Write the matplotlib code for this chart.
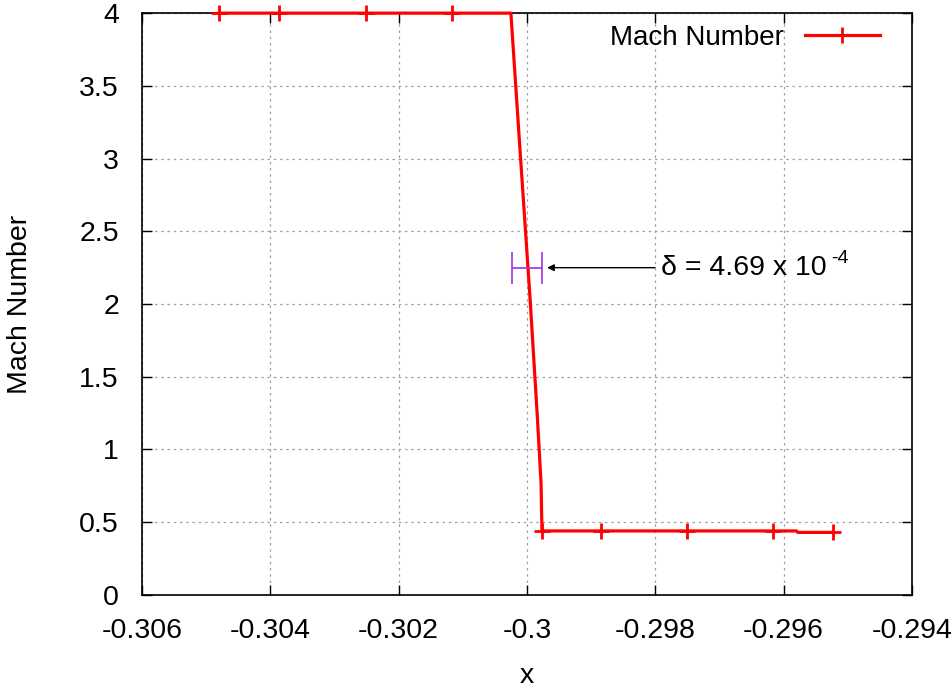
import numpy as np
import matplotlib
matplotlib.use("Agg")
import matplotlib.pyplot as plt

plt.rcParams['font.family'] = ['Liberation Sans', 'DejaVu Sans']

# shock profile
x_pos = [-0.3048, -0.30387, -0.30251, -0.30117, -0.30025, -0.30012,
         -0.29995, -0.29984, -0.29978, -0.299766, -0.29885, -0.29751,
         -0.29617, -0.2958, -0.29578, -0.29523]
mach = [4.0, 4.0, 4.0, 4.0, 4.0, 3.14, 2.03, 1.24, 0.77, 0.44, 0.44, 0.44,
        0.44, 0.44, 0.43, 0.43]
marker_idx = [0, 1, 2, 3, 9, 10, 11, 12, 15]

# shock thickness bar
delta_center = -0.30000
delta = 4.69e-4
delta_y = 2.25

x_ticks = [-0.306, -0.304, -0.302, -0.3, -0.298, -0.296, -0.294]
x_labels = ['-0.306', '-0.304', '-0.302', '-0.3', '-0.298', '-0.296', '-0.294']
y_ticks = [0, 0.5, 1, 1.5, 2, 2.5, 3, 3.5, 4]
y_labels = ['0', '0.5', '1', '1.5', '2', '2.5', '3', '3.5', '4']

fs = 20.5

fig = plt.figure(figsize=(9.52, 6.91), dpi=100)
ax = fig.add_axes([0.149, 0.139, 0.809, 0.842])

ax.plot(x_pos, mach, color='red', lw=2.3, marker='+', ms=11, mew=2,
        markevery=marker_idx, label='Mach Number', clip_on=False, zorder=3)

# error bar for delta
ax.errorbar([delta_center], [delta_y], xerr=[[delta / 2], [delta / 2]],
            color='#a030e0', lw=1.2, capsize=11.5, capthick=1.2, zorder=4)
ax.annotate('', xy=(delta_center + delta / 2 + 0.00008, delta_y),
            xytext=(-0.298005, delta_y),
            arrowprops=dict(arrowstyle='-|>', color='black', lw=1,
                            mutation_scale=10, shrinkA=0, shrinkB=0))
ax.text(-0.29791, delta_y, 'δ = 4.69 x 10', fontsize=fs, va='center', ha='left')
ax.text(-0.29526, delta_y + 0.06, '-4', fontsize=14, va='center', ha='left')

ax.set_xlim(-0.306, -0.294)
ax.set_ylim(0, 4)
ax.set_xticks(x_ticks)
ax.set_xticklabels(x_labels)
ax.set_yticks(y_ticks)
ax.set_yticklabels(y_labels)
ax.tick_params(direction='in', length=7, width=1, top=True, right=True,
               labelsize=fs, pad=16.5)
ax.grid(True, color='#a0a0a0', linestyle=(0, (2, 3)), lw=0.9)
for s in ax.spines.values():
    s.set_linewidth(1.2)

ax.set_xlabel('x', fontsize=fs)
ax.set_ylabel('Mach Number', fontsize=fs)
ax.xaxis.set_label_coords(0.5, -0.117)
ax.yaxis.set_label_coords(-0.1416, 0.5)

leg = ax.legend(loc='upper right', frameon=False, markerfirst=False,
                fontsize=20, handlelength=2.7, handletextpad=0.75,
                borderpad=0, borderaxespad=0,
                bbox_to_anchor=(0.9584, 0.9794))

fig.savefig('out.png', dpi=100)
